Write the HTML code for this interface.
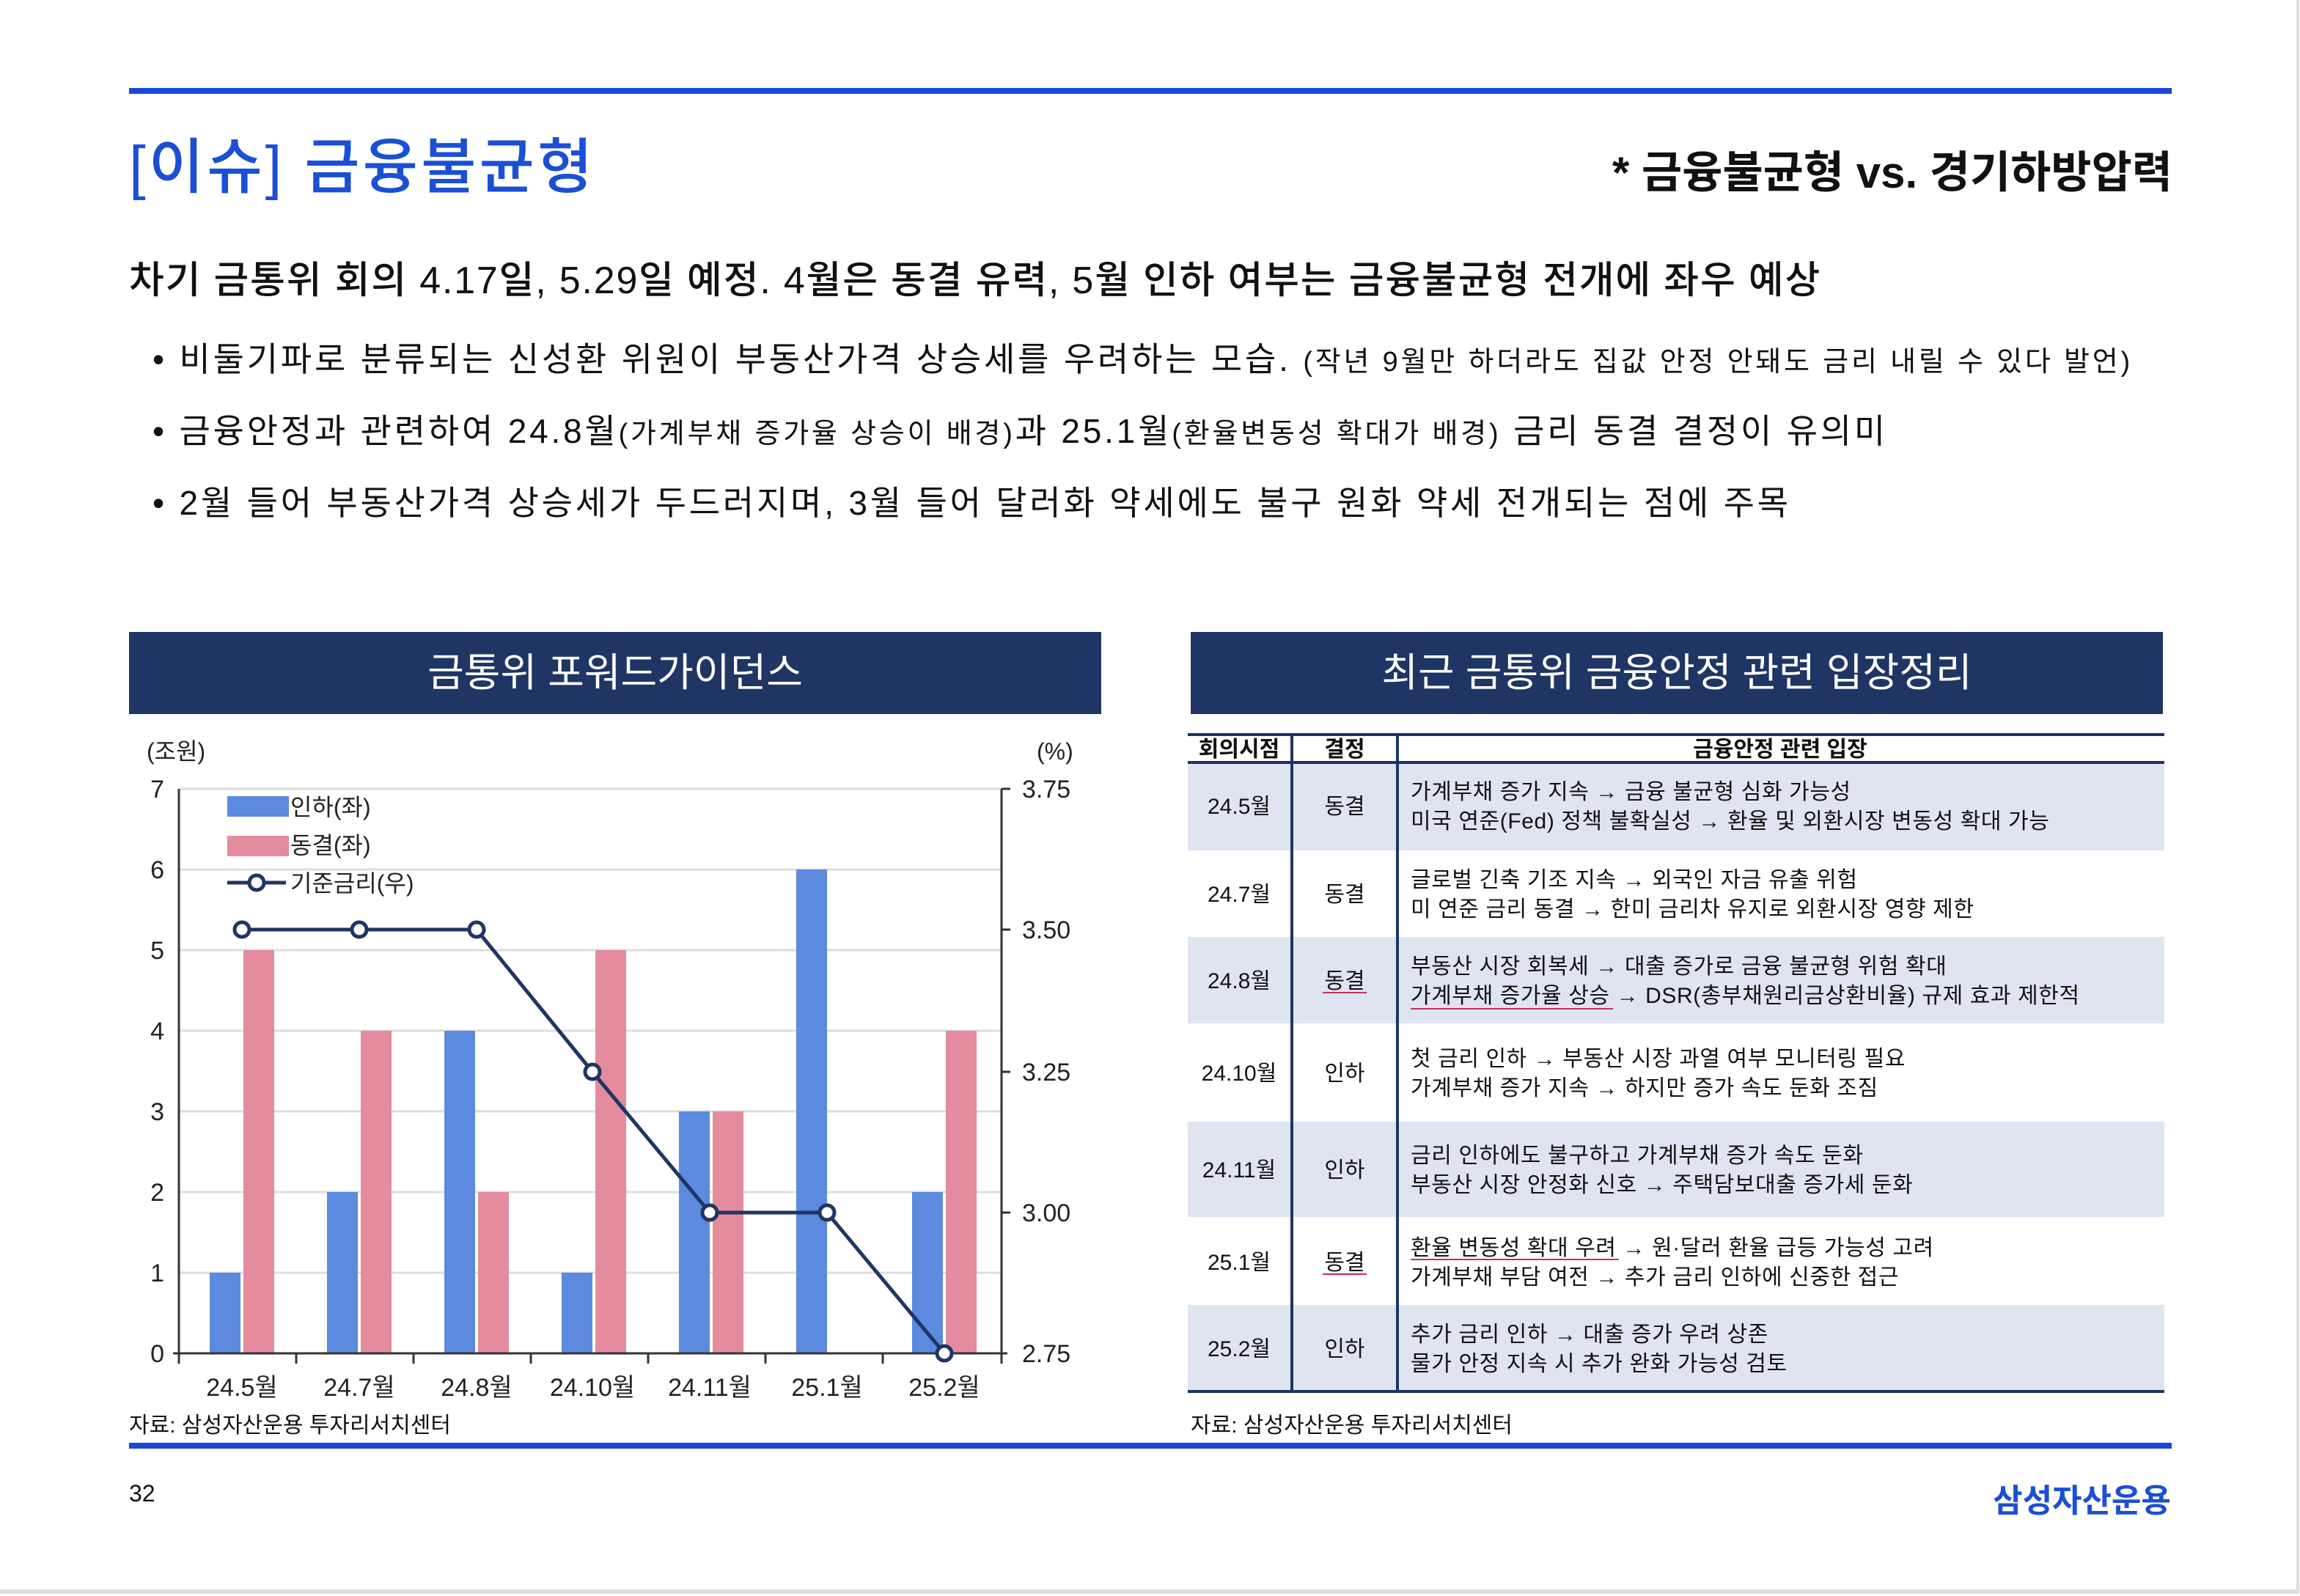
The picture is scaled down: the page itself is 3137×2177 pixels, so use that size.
<!DOCTYPE html>
<html><head><meta charset="utf-8">
<style>
html,body{margin:0;padding:0;background:#fff;}
body{width:3137px;height:2177px;overflow:hidden;position:relative;}
#w{position:absolute;left:0;top:0;width:1568.5px;height:1088.5px;transform:scale(2);transform-origin:0 0;font-family:"Liberation Sans","Noto Sans CJK KR",sans-serif;color:#111;}
.a{position:absolute;white-space:nowrap;}
.bar{position:absolute;background:#1a47d8;}
.tb{position:absolute;background:#1f3564;color:#fff;text-align:center;font-size:27px;line-height:56px;height:56px;}
</style></head><body><div id="w">
<div class="a" style="left:0;top:0;width:1566px;height:1084px;border-right:2px solid #ddd;border-bottom:3px solid #ddd;"></div>
<div class="bar" style="left:88px;top:60px;width:1393px;height:4px;"></div>
<div class="a" style="left:88px;top:80px;font-size:41px;letter-spacing:2px;color:#1a4fd6;font-weight:500;">[이슈] 금융불균형</div>
<div class="a" style="right:87px;top:93px;font-size:30px;font-weight:700;">* 금융불균형 vs. 경기하방압력</div>
<div class="a" style="left:88px;top:171px;font-size:26px;letter-spacing:0.9px;font-weight:500;">차기 금통위 회의 4.17일, 5.29일 예정. 4월은 동결 유력, 5월 인하 여부는 금융불균형 전개에 좌우 예상</div>
<div class="a" style="left:104px;top:226px;font-size:23px;letter-spacing:1.9px;">• 비둘기파로 분류되는 신성환 위원이 부동산가격 상승세를 우려하는 모습. <span style="font-size:19px">(작년 9월만 하더라도 집값 안정 안돼도 금리 내릴 수 있다 발언)</span></div>
<div class="a" style="left:104px;top:275px;font-size:23px;letter-spacing:1.9px;">• 금융안정과 관련하여 24.8월<span style="font-size:19px">(가계부채 증가율 상승이 배경)</span>과 25.1월<span style="font-size:19px">(환율변동성 확대가 배경)</span> 금리 동결 결정이 유의미</div>
<div class="a" style="left:104px;top:324px;font-size:23px;letter-spacing:1.9px;">• 2월 들어 부동산가격 상승세가 두드러지며, 3월 들어 달러화 약세에도 불구 원화 약세 전개되는 점에 주목</div>

<div class="tb" style="left:88px;top:431px;width:663px;">금통위 포워드가이던스</div>
<div class="tb" style="left:812px;top:431px;width:663px;">최근 금통위 금융안정 관련 입장정리</div>

<svg class="a" style="left:0;top:0" width="1568" height="1088" viewBox="0 0 1568 1088" font-family="Liberation Sans, Noto Sans CJK KR, sans-serif">
<g stroke="#ddd" stroke-width="1.5">
<line x1="122" x2="683" y1="538" y2="538"/><line x1="122" x2="683" y1="593" y2="593"/><line x1="122" x2="683" y1="648" y2="648"/><line x1="122" x2="683" y1="703" y2="703"/><line x1="122" x2="683" y1="758" y2="758"/><line x1="122" x2="683" y1="813" y2="813"/><line x1="122" x2="683" y1="868" y2="868"/>
</g>
<g fill="#5b8ade">
<rect x="143" y="868" width="21" height="55"/><rect x="223" y="813" width="21" height="110"/><rect x="303" y="703" width="21" height="220"/><rect x="383" y="868" width="21" height="55"/><rect x="463" y="758" width="21" height="165"/><rect x="543" y="593" width="21" height="330"/><rect x="622" y="813" width="21" height="110"/>
</g>
<g fill="#e48b9d">
<rect x="166" y="648" width="21" height="275"/><rect x="246" y="703" width="21" height="220"/><rect x="326" y="813" width="21" height="110"/><rect x="406" y="648" width="21" height="275"/><rect x="486" y="758" width="21" height="165"/><rect x="645" y="703" width="21" height="220"/>
</g>
<g stroke="#333" stroke-width="1.5" fill="none">
<line x1="122" y1="538" x2="122" y2="930"/><line x1="683" y1="538" x2="683" y2="930"/><line x1="118" y1="923" x2="687" y2="923"/>
<line x1="683" y1="538" x2="689" y2="538"/><line x1="683" y1="634" x2="689" y2="634"/><line x1="683" y1="731" x2="689" y2="731"/><line x1="683" y1="827" x2="689" y2="827"/>
<line x1="202" y1="923" x2="202" y2="930"/><line x1="282" y1="923" x2="282" y2="930"/><line x1="362" y1="923" x2="362" y2="930"/><line x1="442" y1="923" x2="442" y2="930"/><line x1="522" y1="923" x2="522" y2="930"/><line x1="602" y1="923" x2="602" y2="930"/>
</g>
<polyline points="165,634 245,634 325,634 404,731 484,827 564,827 644,923" fill="none" stroke="#1f3564" stroke-width="2.5"/>
<g fill="#fff" stroke="#1f3564" stroke-width="2.5">
<circle cx="165" cy="634" r="5"/><circle cx="245" cy="634" r="5"/><circle cx="325" cy="634" r="5"/><circle cx="404" cy="731" r="5"/><circle cx="484" cy="827" r="5"/><circle cx="564" cy="827" r="5"/><circle cx="644" cy="923" r="5"/>
</g>
<rect x="155" y="543" width="42" height="14" fill="#5b8ade"/>
<rect x="155" y="570" width="42" height="14" fill="#e48b9d"/>
<line x1="155" y1="602" x2="195" y2="602" stroke="#1f3564" stroke-width="2.5"/><circle cx="175" cy="602" r="5" fill="#fff" stroke="#1f3564" stroke-width="2.5"/>
<g font-size="16" fill="#222">
<text x="198" y="556">인하(좌)</text><text x="198" y="582">동결(좌)</text><text x="198" y="608">기준금리(우)</text>
<text x="100" y="518">(조원)</text><text x="707" y="518">(%)</text>
</g>
<g font-size="17" fill="#222" text-anchor="end">
<text x="112" y="544">7</text><text x="112" y="599">6</text><text x="112" y="654">5</text><text x="112" y="709">4</text><text x="112" y="764">3</text><text x="112" y="819">2</text><text x="112" y="874">1</text><text x="112" y="929">0</text>
</g>
<g font-size="17" fill="#222">
<text x="697" y="544">3.75</text><text x="697" y="640">3.50</text><text x="697" y="737">3.25</text><text x="697" y="833">3.00</text><text x="697" y="929">2.75</text>
</g>
<g font-size="17" fill="#222" text-anchor="middle">
<text x="165" y="952">24.5월</text><text x="245" y="952">24.7월</text><text x="325" y="952">24.8월</text><text x="404" y="952">24.10월</text><text x="484" y="952">24.11월</text><text x="564" y="952">25.1월</text><text x="644" y="952">25.2월</text>
</g>
<text x="88" y="977" font-size="15" fill="#111">자료: 삼성자산운용 투자리서치센터</text>
<text x="812" y="977" font-size="15" fill="#111">자료: 삼성자산운용 투자리서치센터</text>

<g fill="#dfe4f1">
<rect x="810" y="520" width="666" height="60"/><rect x="810" y="639" width="666" height="59"/><rect x="810" y="765" width="666" height="65"/><rect x="810" y="890" width="666" height="59"/>
</g>
<g stroke="#1f3564" stroke-width="2">
<line x1="810" x2="1476" y1="501" y2="501"/><line x1="810" x2="1476" y1="520" y2="520"/><line x1="810" x2="1476" y1="949" y2="949"/>
<line x1="881" x2="881" y1="501" y2="949"/><line x1="953" x2="953" y1="501" y2="949"/>
</g>
<g font-size="15" font-weight="700" fill="#111" text-anchor="middle">
<text x="845" y="516">회의시점</text><text x="917" y="516">결정</text><text x="1214" y="516">금융안정 관련 입장</text>
</g>
<g font-size="15" fill="#111" text-anchor="middle">
<text x="845" y="555">24.5월</text><text x="917" y="555">동결</text>
<text x="845" y="615">24.7월</text><text x="917" y="615">동결</text>
<text x="845" y="674">24.8월</text><text x="917" y="674">동결</text>
<text x="845" y="737">24.10월</text><text x="917" y="737">인하</text>
<text x="845" y="803">24.11월</text><text x="917" y="803">인하</text>
<text x="845" y="866">25.1월</text><text x="917" y="866">동결</text>
<text x="845" y="925">25.2월</text><text x="917" y="925">인하</text>
</g>
<g font-size="15" fill="#111" letter-spacing="0.3">
<text x="962" y="545">가계부채 증가 지속 → 금융 불균형 심화 가능성</text>
<text x="962" y="565">미국 연준(Fed) 정책 불확실성 → 환율 및 외환시장 변동성 확대 가능</text>
<text x="962" y="605">글로벌 긴축 기조 지속 → 외국인 자금 유출 위험</text>
<text x="962" y="625">미 연준 금리 동결 → 한미 금리차 유지로 외환시장 영향 제한</text>
<text x="962" y="664">부동산 시장 회복세 → 대출 증가로 금융 불균형 위험 확대</text>
<text x="962" y="684">가계부채 증가율 상승 → DSR(총부채원리금상환비율) 규제 효과 제한적</text>
<text x="962" y="727">첫 금리 인하 → 부동산 시장 과열 여부 모니터링 필요</text>
<text x="962" y="747">가계부채 증가 지속 → 하지만 증가 속도 둔화 조짐</text>
<text x="962" y="793">금리 인하에도 불구하고 가계부채 증가 속도 둔화</text>
<text x="962" y="813">부동산 시장 안정화 신호 → 주택담보대출 증가세 둔화</text>
<text x="962" y="856">환율 변동성 확대 우려 → 원·달러 환율 급등 가능성 고려</text>
<text x="962" y="876">가계부채 부담 여전 → 추가 금리 인하에 신중한 접근</text>
<text x="962" y="915">추가 금리 인하 → 대출 증가 우려 상존</text>
<text x="962" y="935">물가 안정 지속 시 추가 완화 가능성 검토</text>
</g>
<g stroke="#c0305a" stroke-width="1">
<line x1="962" x2="1100" y1="688" y2="688"/><line x1="962" x2="1104" y1="859" y2="859"/><line x1="902" x2="932" y1="677" y2="677"/><line x1="902" x2="932" y1="869" y2="869"/>
</g>
</svg>

<div class="bar" style="left:88px;top:984px;width:1393px;height:4px;"></div>
<div class="a" style="left:88px;top:1011px;font-size:16px;">32</div>
<div class="a" style="right:88px;top:1006px;font-size:22px;font-weight:700;color:#1a4fd6;">삼성자산운용</div>
</div></body></html>
